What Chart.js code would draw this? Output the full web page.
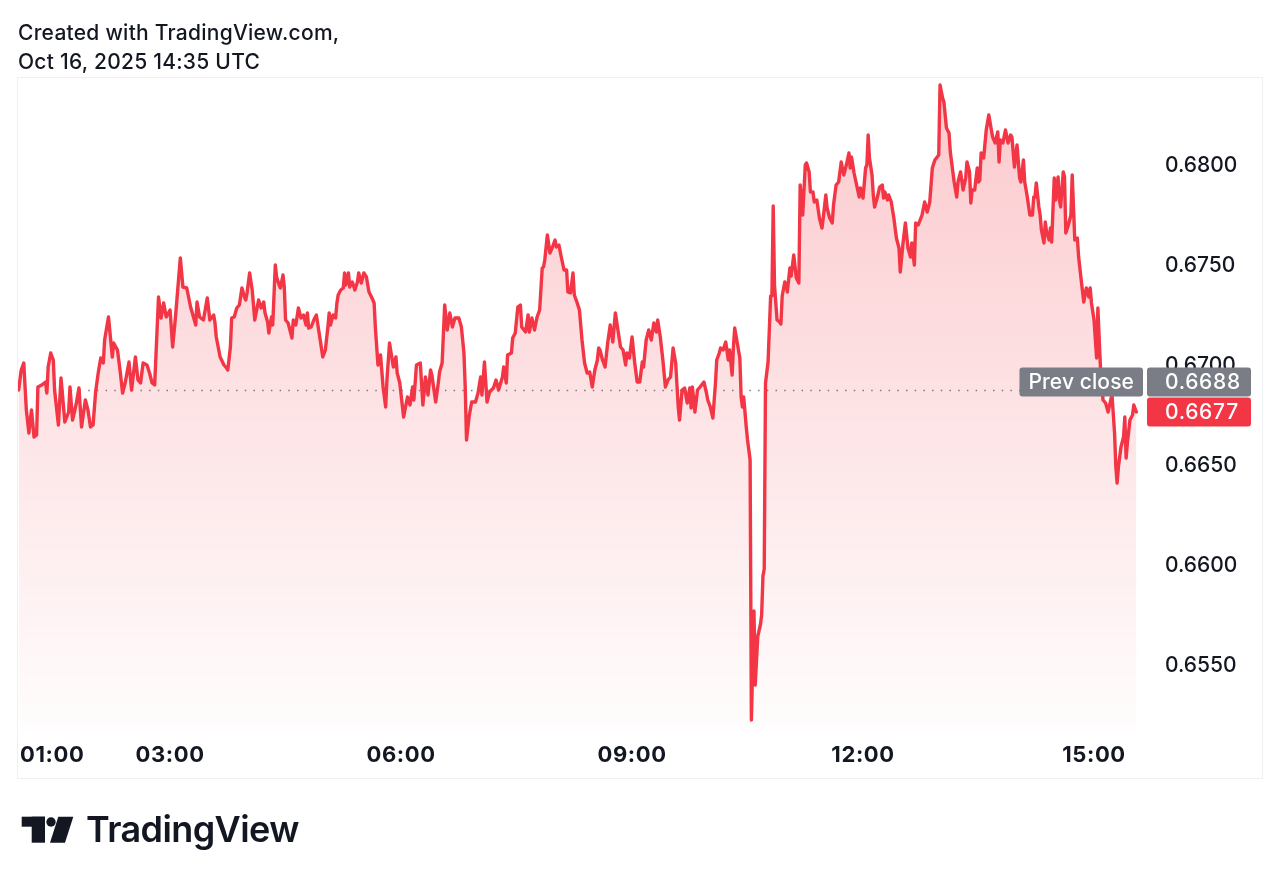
<!DOCTYPE html>
<html>
<head>
<meta charset="utf-8">
<script src="https://cdn.jsdelivr.net/npm/chart.js@4.4.1/dist/chart.umd.min.js"></script>
<style>
  html, body { margin: 0; padding: 0; background: #fff; }
  body {
    width: 1280px; height: 884px; position: relative; overflow: hidden;
    font-family: Inter, "Noto Sans", sans-serif; color: #131722;
  }
  .header {
    position: absolute; left: 18px; top: 18px;
    font-size: 21px; line-height: 29px; font-weight: 500; letter-spacing: 0.25px;
  }
  .frame {
    position: absolute; left: 17px; top: 77px; width: 1244px; height: 700px;
    border: 1px solid #eef0f3;
  }
  #chart { position: absolute; left: 0; top: 0; }
  .logo-icon { position: absolute; left: 0; top: 800px; }
  .logo-text {
    position: absolute; left: 86px; top: 811px;
    font-size: 36px; line-height: 36px; font-weight: 600; letter-spacing: -0.6px;
  }
</style>
</head>
<body>
<div class="frame"></div>
<canvas id="chart" width="1280" height="884"></canvas>
<div class="header">Created with TradingView.com,<br>Oct 16, 2025 14:35 UTC</div>
<svg class="logo-icon" width="80" height="60" viewBox="0 800 80 60">
  <rect x="21.7" y="816.7" width="23.3" height="10" fill="#131722"/>
  <rect x="31.7" y="816.7" width="13.3" height="26" fill="#131722"/>
  <circle cx="51" cy="822" r="4.7" fill="#131722"/>
  <polygon points="58.3,816.7 73.3,816.7 65,842.7 50,842.7" fill="#131722"/>
</svg>
<div class="logo-text">TradingView</div>
<script>
// AUD/USD-style intraday line (local time)
const times = [
  "01:02","01:04","01:06","01:08","01:10","01:12","01:14","01:16","01:17","01:20",
  "01:23","01:24","01:25","01:27","01:29","01:30","01:33","01:35","01:38","01:41",
  "01:42","01:44","01:47","01:49","01:51","01:54","01:56","01:58","02:00","02:02",
  "02:04","02:06","02:08","02:09","02:12","02:15","02:16","02:19","02:21","02:23",
  "02:25","02:28","02:30","02:33","02:35","02:37","02:39","02:42","02:44","02:46",
  "02:48","02:51","02:53","02:55","02:57","03:00","03:02","03:04","03:05","03:08",
  "03:10","03:13","03:16","03:20","03:21","03:23","03:26","03:29","03:31","03:34",
  "03:35","03:36","03:39","03:42","03:44","03:45","03:47","03:48","03:50","03:52",
  "03:54","03:56","03:58","03:59","04:00","04:02","04:04","04:06","04:09","04:11",
  "04:13","04:14","04:16","04:17","04:19","04:20","04:22","04:23","04:25","04:26",
  "04:28","04:29","04:30","04:32","04:35","04:36","04:38","04:40","04:42","04:44",
  "04:46","04:47","04:48","04:50","04:52","04:54","04:57","04:59","05:01","05:03",
  "05:04","05:05","05:07","05:09","05:10","05:11","05:13","05:15","05:16","05:17",
  "05:19","05:20","05:22","05:24","05:26","05:27","05:29","05:31","05:33","05:35",
  "05:37","05:39","05:40","05:42","05:44","05:46","05:48","05:49","05:51","05:54",
  "05:56","05:57","05:59","06:02","06:05","06:07","06:09","06:10","06:12","06:15",
  "06:17","06:19","06:21","06:23","06:24","06:27","06:29","06:30","06:32","06:34",
  "06:36","06:38","06:40","06:42","06:45","06:47","06:49","06:50","06:51","06:53",
  "06:55","06:58","07:00","07:02","07:03","07:05","07:07","07:09","07:12","07:14",
  "07:16","07:19","07:20","07:22","07:23","07:26","07:27","07:29","07:31","07:33",
  "07:34","07:37","07:39","07:40","07:42","07:44","07:46","07:48","07:50","07:51",
  "07:52","07:54","07:56","07:58","08:00","08:01","08:03","08:05","08:07","08:09",
  "08:10","08:12","08:14","08:15","08:17","08:19","08:21","08:23","08:25","08:27",
  "08:29","08:31","08:33","08:34","08:35","08:37","08:39","08:41","08:43","08:45",
  "08:47","08:49","08:51","08:53","08:55","08:56","08:58","09:00","09:02","09:04",
  "09:06","09:08","09:09","09:11","09:13","09:15","09:17","09:19","09:20","09:22",
  "09:24","09:26","09:28","09:30","09:32","09:34","09:36","09:37","09:39","09:41",
  "09:43","09:45","09:46","09:47","09:49","09:51","09:53","09:56","09:58","09:59",
  "10:01","10:03","10:05","10:06","10:08","10:09","10:11","10:13","10:15","10:16",
  "10:18","10:19","10:20","10:22","10:24","10:25","10:26","10:27","10:29","10:30",
  "10:32","10:33","10:35","10:36","10:38","10:40","10:41","10:42","10:43","10:44",
  "10:46","10:48","10:49","10:50","10:51","10:53","10:55","10:56","10:57","10:59",
  "11:00","11:01","11:03","11:04","11:06","11:08","11:10","11:11","11:13","11:15",
  "11:16","11:18","11:19","11:21","11:22","11:24","11:26","11:28","11:29","11:31",
  "11:32","11:34","11:36","11:37","11:39","11:41","11:43","11:45","11:47","11:49",
  "11:50","11:51","11:53","11:55","11:57","11:58","12:00","12:02","12:03","12:04",
  "12:05","12:07","12:08","12:09","12:11","12:13","12:15","12:16","12:17","12:19",
  "12:20","12:22","12:24","12:26","12:28","12:29","12:31","12:33","12:35","12:37",
  "12:38","12:40","12:41","12:43","12:46","12:48","12:49","12:50","12:52","12:54",
  "12:56","12:59","13:00","13:02","13:03","13:05","13:07","13:08","13:10","13:11",
  "13:13","13:14","13:16","13:18","13:20","13:21","13:23","13:24","13:25","13:27",
  "13:29","13:30","13:31","13:32","13:34","13:36","13:38","13:40","13:41","13:43",
  "13:45","13:46","13:47","13:49","13:51","13:53","13:55","13:56","13:58","14:00",
  "14:02","14:03","14:05","14:06","14:08","14:10","14:12","14:13","14:14","14:15",
  "14:17","14:18","14:19","14:21","14:22","14:23","14:25","14:26","14:27","14:29",
  "14:30","14:32","14:33","14:34","14:36","14:37","14:38","14:40","14:42","14:43",
  "14:45","14:47","14:48","14:50","14:52","14:54","14:56","14:57","14:58","15:00",
  "15:02","15:03","15:05","15:06","15:07","15:09","15:11","15:13","15:14","15:16",
  "15:17","15:18","15:19","15:21","15:23","15:24","15:25","15:26","15:28","15:30",
  "15:31","15:33",
];

const prices = [
  0.66880, 0.66980, 0.67015, 0.66780, 0.66665, 0.66780, 0.66645, 0.66655, 0.66895, 0.66905,
  0.66920, 0.66865, 0.66995, 0.67065, 0.67030, 0.66880, 0.66705, 0.66940, 0.66720, 0.66770,
  0.66895, 0.66730, 0.66815, 0.66890, 0.66695, 0.66830, 0.66780, 0.66695, 0.66705, 0.66870,
  0.66965, 0.67040, 0.67015, 0.67130, 0.67245, 0.67045, 0.67115, 0.67080, 0.66980, 0.66865,
  0.66915, 0.67020, 0.66880, 0.67045, 0.66930, 0.66915, 0.67015, 0.67005, 0.66965, 0.66915,
  0.66905, 0.67345, 0.67240, 0.67315, 0.67245, 0.67280, 0.67095, 0.67230, 0.67305, 0.67540,
  0.67395, 0.67390, 0.67295, 0.67205, 0.67320, 0.67245, 0.67230, 0.67340, 0.67230, 0.67255,
  0.67215, 0.67145, 0.67045, 0.67005, 0.66990, 0.66980, 0.67095, 0.67240, 0.67245, 0.67290,
  0.67305, 0.67390, 0.67345, 0.67330, 0.67365, 0.67465, 0.67380, 0.67230, 0.67330, 0.67290,
  0.67320, 0.67265, 0.67220, 0.67165, 0.67245, 0.67205, 0.67505, 0.67445, 0.67405, 0.67390,
  0.67455, 0.67395, 0.67230, 0.67215, 0.67140, 0.67230, 0.67205, 0.67290, 0.67240, 0.67255,
  0.67205, 0.67265, 0.67190, 0.67195, 0.67230, 0.67255, 0.67130, 0.67045, 0.67080, 0.67195,
  0.67265, 0.67205, 0.67255, 0.67240, 0.67315, 0.67355, 0.67380, 0.67390, 0.67465, 0.67405,
  0.67465, 0.67395, 0.67420, 0.67380, 0.67420, 0.67465, 0.67415, 0.67465, 0.67445, 0.67370,
  0.67345, 0.67315, 0.67190, 0.67005, 0.67055, 0.66895, 0.66795, 0.66930, 0.67115, 0.66995,
  0.67045, 0.66965, 0.66915, 0.66745, 0.66845, 0.66805, 0.66895, 0.66830, 0.67005, 0.67015,
  0.66805, 0.66945, 0.66855, 0.66980, 0.66955, 0.66820, 0.66915, 0.66970, 0.67015, 0.67305,
  0.67180, 0.67265, 0.67195, 0.67240, 0.67240, 0.67195, 0.67065, 0.66895, 0.66630, 0.66745,
  0.66820, 0.66820, 0.66865, 0.66945, 0.66855, 0.67020, 0.66820, 0.66870, 0.66890, 0.66930,
  0.66880, 0.66945, 0.66995, 0.66915, 0.67055, 0.67065, 0.67140, 0.67165, 0.67295, 0.67305,
  0.67195, 0.67170, 0.67255, 0.67170, 0.67240, 0.67180, 0.67245, 0.67280, 0.67490, 0.67495,
  0.67530, 0.67655, 0.67565, 0.67595, 0.67630, 0.67595, 0.67605, 0.67540, 0.67480, 0.67480,
  0.67370, 0.67365, 0.67465, 0.67355, 0.67320, 0.67280, 0.67130, 0.67015, 0.66965, 0.66970,
  0.66895, 0.66980, 0.67030, 0.67090, 0.67080, 0.67030, 0.66995, 0.67115, 0.67205, 0.67120,
  0.67265, 0.67180, 0.67095, 0.67080, 0.67005, 0.67065, 0.67040, 0.67145, 0.67020, 0.66920,
  0.66920, 0.67020, 0.66995, 0.67130, 0.67180, 0.67130, 0.67215, 0.67170, 0.67230, 0.67145,
  0.67030, 0.66895, 0.66930, 0.66945, 0.67090, 0.67015, 0.66795, 0.66730, 0.66880, 0.66890,
  0.66815, 0.66890, 0.66790, 0.66895, 0.66770, 0.66880, 0.66895, 0.66920, 0.66865, 0.66830,
  0.66795, 0.66740, 0.66915, 0.67030, 0.67065, 0.67090, 0.67080, 0.67120, 0.67030, 0.67080,
  0.66955, 0.67095, 0.67190, 0.67115, 0.67040, 0.66845, 0.66795, 0.66845, 0.66695, 0.66630,
  0.66530, 0.65230, 0.65775, 0.65405, 0.65650, 0.65705, 0.65755, 0.65950, 0.65985, 0.66915,
  0.67020, 0.67350, 0.67350, 0.67800, 0.67405, 0.67230, 0.67220, 0.67210, 0.67350, 0.67420,
  0.67405, 0.67370, 0.67490, 0.67450, 0.67555, 0.67440, 0.67415, 0.67905, 0.67755, 0.68005,
  0.68015, 0.67970, 0.67870, 0.67870, 0.67820, 0.67830, 0.67740, 0.67690, 0.67740, 0.67855,
  0.67790, 0.67740, 0.67715, 0.67805, 0.67905, 0.67920, 0.68020, 0.67955, 0.68005, 0.68065,
  0.67990, 0.68045, 0.67965, 0.67905, 0.67845, 0.67890, 0.67840, 0.67990, 0.68005, 0.68155,
  0.68040, 0.67955, 0.67855, 0.67795, 0.67840, 0.67895, 0.67905, 0.67840, 0.67870, 0.67830,
  0.67855, 0.67820, 0.67740, 0.67640, 0.67590, 0.67470, 0.67605, 0.67715, 0.67590, 0.67545,
  0.67615, 0.67505, 0.67715, 0.67705, 0.67755, 0.67820, 0.67795, 0.67770, 0.67820, 0.67990,
  0.68030, 0.68055, 0.68405, 0.68340, 0.68320, 0.68190, 0.68165, 0.68070, 0.67970, 0.67920,
  0.67845, 0.67920, 0.67970, 0.67880, 0.67940, 0.68020, 0.67970, 0.67815, 0.67880, 0.67880,
  0.67990, 0.67920, 0.67930, 0.68065, 0.68040, 0.68180, 0.68255, 0.68180, 0.68145, 0.68115,
  0.68170, 0.68020, 0.68130, 0.68115, 0.68180, 0.68115, 0.68155, 0.68145, 0.67995, 0.68105,
  0.67940, 0.67920, 0.68030, 0.67920, 0.67845, 0.67755, 0.67755, 0.67845, 0.67845, 0.67915,
  0.67795, 0.67755, 0.67680, 0.67615, 0.67720, 0.67670, 0.67630, 0.67690, 0.67620, 0.67940,
  0.67830, 0.67945, 0.67830, 0.67795, 0.67970, 0.67945, 0.67665, 0.67705, 0.67755, 0.67955,
  0.67630, 0.67640, 0.67545, 0.67430, 0.67320, 0.67390, 0.67345, 0.67390, 0.67315, 0.67230,
  0.67040, 0.67290, 0.66995, 0.66915, 0.66830, 0.66815, 0.66770, 0.66830, 0.66855, 0.66665,
  0.66495, 0.66415, 0.66495, 0.66595, 0.66645, 0.66745, 0.66540, 0.66615, 0.66730, 0.66755,
  0.66805, 0.66770,
];

const prevClose = 0.6688;
const priceTicks = [0.6550, 0.6600, 0.6650, 0.6700, 0.6750, 0.6800];
const timeTicks = ["01:00", "03:00", "06:00", "09:00", "12:00", "15:00"];

const RED = "#f23645";
const GREY = "#7a7d85";
const TEXT = "#131722";
const FONT = "Inter, 'Noto Sans', sans-serif";

const toMinutes = (label) => {
  const [h, m] = label.split(":").map(Number);
  return h * 60 + m;
};

const points = times.map((t, i) => ({ x: toMinutes(t), y: prices[i] }));

const roundRect = (ctx, x, y, w, h, r) => {
  ctx.beginPath();
  ctx.moveTo(x + r, y);
  ctx.lineTo(x + w - r, y);
  ctx.quadraticCurveTo(x + w, y, x + w, y + r);
  ctx.lineTo(x + w, y + h - r);
  ctx.quadraticCurveTo(x + w, y + h, x + w - r, y + h);
  ctx.lineTo(x + r, y + h);
  ctx.quadraticCurveTo(x, y + h, x, y + h - r);
  ctx.lineTo(x, y + r);
  ctx.quadraticCurveTo(x, y, x + r, y);
  ctx.closePath();
};

// dotted "prev close" line under the series
const prevCloseLinePlugin = {
  id: "prevCloseLine",
  beforeDatasetsDraw(chart) {
    const { ctx, chartArea } = chart;
    const y = chart.scales.y.getPixelForValue(prevClose);
    ctx.save();
    ctx.strokeStyle = GREY;
    ctx.lineWidth = 1.5;
    ctx.setLineDash([1.5, 7.2]);
    ctx.beginPath();
    ctx.moveTo(chartArea.left + 18, Math.round(y) + 0.5);
    ctx.lineTo(chartArea.right, Math.round(y) + 0.5);
    ctx.stroke();
    ctx.restore();
  },
};

// time labels under the plot, first one pinned to the left edge
const timeLabelsPlugin = {
  id: "timeLabels",
  afterDraw(chart) {
    const { ctx } = chart;
    const xScale = chart.scales.x;
    ctx.save();
    ctx.font = `700 22px ${FONT}`;
    ctx.letterSpacing = "0.6px";
    ctx.fillStyle = TEXT;
    ctx.textBaseline = "middle";
    ctx.textAlign = "left";
    timeTicks.forEach((label) => {
      const px = xScale.getPixelForValue(toMinutes(label));
      const w = ctx.measureText(label).width;
      let left = px - w / 2;
      if (left < 20) {
        left = 20;
      }
      ctx.fillText(label, left, 755);
    });
    ctx.restore();
  },
};

// price-axis badges: prev close (grey) stacked above last price (red)
const priceBadgesPlugin = {
  id: "priceBadges",
  afterDraw(chart) {
    const { ctx, chartArea } = chart;
    const yScale = chart.scales.y;
    const last = prices[prices.length - 1];
    const h = 29;
    const boxLeft = chartArea.right + 1;
    const boxWidth = 104;
    const textX = chartArea.right + 19;

    const lastTop = yScale.getPixelForValue(last) - h / 2;
    let prevTop = yScale.getPixelForValue(prevClose) - h / 2;
    if (prevTop + h > lastTop - 1) {
      prevTop = lastTop - 1 - h;
    }

    ctx.save();
    ctx.font = `500 21px ${FONT}`;
    ctx.letterSpacing = "0.7px";
    ctx.textBaseline = "middle";
    ctx.textAlign = "left";

    ctx.fillStyle = GREY;
    roundRect(ctx, boxLeft, prevTop, boxWidth, h, 3);
    ctx.fill();
    ctx.fillStyle = "#ffffff";
    ctx.fillText(prevClose.toFixed(4), textX, prevTop + h / 2 + 1);

    ctx.fillStyle = RED;
    roundRect(ctx, boxLeft, lastTop, boxWidth, h, 3);
    ctx.fill();
    ctx.fillStyle = "#ffffff";
    ctx.fillText(last.toFixed(4), textX, lastTop + h / 2 + 1);

    const tag = "Prev close";
    ctx.letterSpacing = "0.1px";
    const tagWidth = ctx.measureText(tag).width + 18;
    const tagLeft = chartArea.right - 3 - tagWidth;
    ctx.fillStyle = GREY;
    roundRect(ctx, tagLeft, prevTop, tagWidth, h, 3);
    ctx.fill();
    ctx.fillStyle = "#ffffff";
    ctx.fillText(tag, tagLeft + 9, prevTop + h / 2 + 1);
    ctx.restore();
  },
};

const areaFill = (context) => {
  const { chart } = context;
  const area = chart.chartArea;
  if (!area) {
    return null;
  }
  const g = chart.ctx.createLinearGradient(0, area.top, 0, area.bottom);
  g.addColorStop(0, "rgba(242, 54, 69, 0.27)");
  g.addColorStop(1, "rgba(242, 54, 69, 0.01)");
  return g;
};

new Chart(document.getElementById("chart"), {
  type: "line",
  plugins: [prevCloseLinePlugin, timeLabelsPlugin, priceBadgesPlugin],
  data: {
    datasets: [
      {
        label: "Price",
        data: points,
        borderColor: RED,
        borderWidth: 3.4,
        borderJoinStyle: "round",
        borderCapStyle: "round",
        backgroundColor: areaFill,
        fill: "start",
        pointRadius: 0,
        tension: 0,
      },
    ],
  },
  options: {
    responsive: false,
    animation: false,
    events: [],
    layout: {
      padding: { left: 18, top: 80, right: 0, bottom: 154 },
    },
    plugins: {
      legend: { display: false },
      tooltip: { enabled: false },
    },
    scales: {
      x: {
        type: "linear",
        display: false,
        min: 61.5,
        max: 940.5,
      },
      y: {
        position: "right",
        min: 0.6518,
        max: 0.6843,
        afterFit(scale) {
          scale.width = 134;
        },
        afterBuildTicks(scale) {
          scale.ticks = priceTicks.map((value) => ({ value }));
        },
        ticks: {
          padding: 19,
          color: TEXT,
          font: { family: FONT, size: 21, weight: "500" },
          callback: (value) => Number(value).toFixed(4),
        },
        grid: { display: false, drawTicks: false },
        border: { display: false },
      },
    },
  },
});
</script>
</body>
</html>
